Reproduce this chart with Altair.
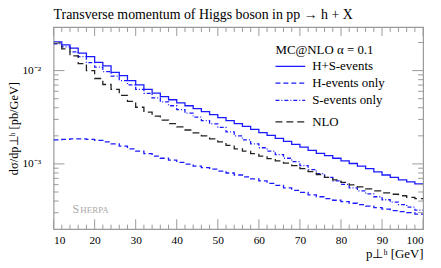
import altair as alt
import pandas as pd

# bin lower edges (2 GeV bins from 10 to 100 GeV)
bin_lo = list(range(10, 100, 2))
x_max = 100

hs_events = [0.0203, 0.0189, 0.0174, 0.0154, 0.0141, 0.01225, 0.01122, 0.00959, 0.00885, 0.00783,
             0.00705, 0.00629, 0.00574, 0.00526, 0.00487, 0.00452, 0.00420, 0.00391, 0.00363, 0.00337,
             0.00314, 0.00291, 0.00271, 0.00252, 0.00234, 0.00217, 0.00202, 0.00188, 0.001745, 0.00162,
             0.00151, 0.00140, 0.00130, 0.001225, 0.00115, 0.00108, 0.00101, 0.000948, 0.000892, 0.00082,
             0.000761, 0.000716, 0.000673, 0.000641, 0.000611]
h_only = [0.00181, 0.00183, 0.00186, 0.00186, 0.00183, 0.00179, 0.00172, 0.00164, 0.00155, 0.00145,
          0.00137, 0.00129, 0.00121, 0.00115, 0.00110, 0.00104, 0.000995, 0.000948, 0.000914, 0.000881,
          0.000839, 0.000799, 0.000761, 0.000725, 0.000690, 0.000657, 0.000618, 0.000589, 0.000554, 0.000521,
          0.000496, 0.000467, 0.000445, 0.000424, 0.000408, 0.000394, 0.000379, 0.000366, 0.000353, 0.000340,
          0.000328, 0.000316, 0.000308, 0.000301, 0.000290]
s_only = [0.0193, 0.0180, 0.0159, 0.0141, 0.01216, 0.01089, 0.00976, 0.00874, 0.00783, 0.00702,
          0.00629, 0.00570, 0.00511, 0.00463, 0.00420, 0.00381, 0.00350, 0.00317, 0.00291, 0.00268,
          0.00246, 0.00220, 0.00200, 0.00181, 0.00164, 0.00149, 0.00137, 0.001255, 0.00115, 0.001058,
          0.000959, 0.000870, 0.000789, 0.000716, 0.000657, 0.000603, 0.000554, 0.000515, 0.000478, 0.000445,
          0.000413, 0.000389, 0.000366, 0.000344, 0.000320]
nlo = [0.0198, 0.0171, 0.0144, 0.01186, 0.0100, 0.00823, 0.00710, 0.00629, 0.00543, 0.00469,
       0.00405, 0.00359, 0.00325, 0.00295, 0.00271, 0.00249, 0.00231, 0.00215, 0.00200, 0.00186,
       0.00172, 0.00158, 0.00145, 0.00137, 0.00129, 0.00121, 0.00114, 0.00108, 0.00102, 0.000959,
       0.000892, 0.000829, 0.000770, 0.000716, 0.000673, 0.000634, 0.000596, 0.000568, 0.000540, 0.000515,
       0.000490, 0.000473, 0.000456, 0.000439, 0.000424]

x_major = [10, 20, 30, 40, 50, 60, 70, 80, 90, 100]
x_minor = [v for v in range(12, 100, 2) if v % 10 != 0]
y_major = [0.001, 0.01]
y_minor = [3e-4, 4e-4, 5e-4, 6e-4, 7e-4, 8e-4, 9e-4,
           0.002, 0.003, 0.004, 0.005, 0.006, 0.007, 0.008, 0.009, 0.02]

W, H = 373, 204
FONT = "Liberation Serif"
GREY = "#9a9a9a"
BLUE = "#1a1aff"

xscale = alt.Scale(domain=[10, 100], nice=False, zero=False)
yscale = alt.Scale(type="log", domain=[2.0e-4, 0.0293], nice=False)


def steps(vals):
    return pd.DataFrame({"pt": bin_lo + [x_max], "v": vals + [vals[-1]]})


def series(vals, color, dash, first=False):
    if first:
        x = alt.X("pt:Q", scale=xscale,
                  axis=alt.Axis(values=x_major, ticks=False, domain=False, grid=False,
                                labelFont=FONT, labelFontSize=11.5, labelColor="black",
                                labelPadding=5, title="p⊥ʰ [GeV]", titleFont=FONT,
                                titleFontSize=13, titleFontWeight="normal", titleAnchor="end",
                                titleColor="black", titlePadding=2))
        y = alt.Y("v:Q", scale=yscale,
                  axis=alt.Axis(values=y_major, ticks=False, domain=False, grid=False,
                                labelExpr="datum.value < 0.005 ? '10⁻³' : '10⁻²'",
                                labelFont=FONT, labelFontSize=11.5, labelColor="black",
                                labelPadding=13, title="dσ/dp⊥ʰ [pb/GeV]", titleFont=FONT,
                                titleFontSize=12.5, titleFontWeight="normal", titleColor="black",
                                titlePadding=1))
    else:
        x = alt.X("pt:Q", scale=xscale)
        y = alt.Y("v:Q", scale=yscale)
    m = alt.Chart(steps(vals)).mark_line(interpolate="step-after", color=color,
                                         strokeWidth=1.3, clip=True,
                                         **({"strokeDash": dash} if dash else {}))
    return m.encode(x=x, y=y)


def xticks(vals, y0, y1):
    return alt.Chart(pd.DataFrame({"pt": vals})).mark_rule(color=GREY, strokeWidth=1).encode(
        x=alt.X("pt:Q", scale=xscale), y=alt.value(y0), y2=alt.value(y1))


def yticks(vals, x0, x1):
    return alt.Chart(pd.DataFrame({"v": vals})).mark_rule(color=GREY, strokeWidth=1).encode(
        y=alt.Y("v:Q", scale=yscale), x=alt.value(x0), x2=alt.value(x1))


def legline(y, color, dash):
    kw = {"strokeDash": dash} if dash else {}
    return alt.Chart(pd.DataFrame({"a": [0]})).mark_rule(color=color, strokeWidth=1.3, **kw).encode(
        x=alt.value(224), x2=alt.value(254), y=alt.value(y))


def txt(s, x, y, size=13, color="black", align="left"):
    return alt.Chart(pd.DataFrame({"a": [0]})).mark_text(
        text=s, font=FONT, fontSize=size, color=color, align=align, baseline="middle").encode(
        x=alt.value(x), y=alt.value(y))


layers = [
    series(hs_events, BLUE, None, first=True),
    series(h_only, BLUE, [5, 3]),
    series(s_only, BLUE, [4, 2, 1, 2]),
    series(nlo, "#222222", [7, 4]),
    xticks(x_major, H, H - 10), xticks(x_minor, H, H - 4.5),
    xticks(x_major, 0, 9), xticks(x_minor, 0, 5),
    yticks(y_major, 0, 11), yticks(y_minor, 0, 5),
    yticks(y_major, W, W - 11), yticks(y_minor, W, W - 5),
    txt("MC@NLO α = 0.1", 224, 23.5),
    legline(39.7, BLUE, None), txt("H+S-events", 261, 39.7),
    legline(56.7, BLUE, [5, 3]), txt("H-events only", 261, 56.7),
    legline(74, BLUE, [4, 2, 1, 2]), txt("S-events only", 261, 74),
    legline(95.7, "#222222", [7, 4]), txt("NLO", 261, 95.7),
    txt("S", 19, 184, size=12, color="#aaaaaa"),
    txt("HERPA", 27, 185, size=9, color="#aaaaaa"),
]

chart = alt.layer(*layers).properties(
    width=W, height=H,
    title=alt.TitleParams("Transverse momentum of Higgs boson in pp → h + X", anchor="start",
                          frame="group",
                          font=FONT, fontSize=14, fontWeight="normal", color="black", offset=5),
    autosize=alt.AutoSizeParams(type="none"),
    padding={"left": 46, "top": 18, "right": 10, "bottom": 38},
).configure_view(stroke=GREY, strokeWidth=1.2)

chart.save("out.html", embed_options={"renderer": "svg", "actions": False})
